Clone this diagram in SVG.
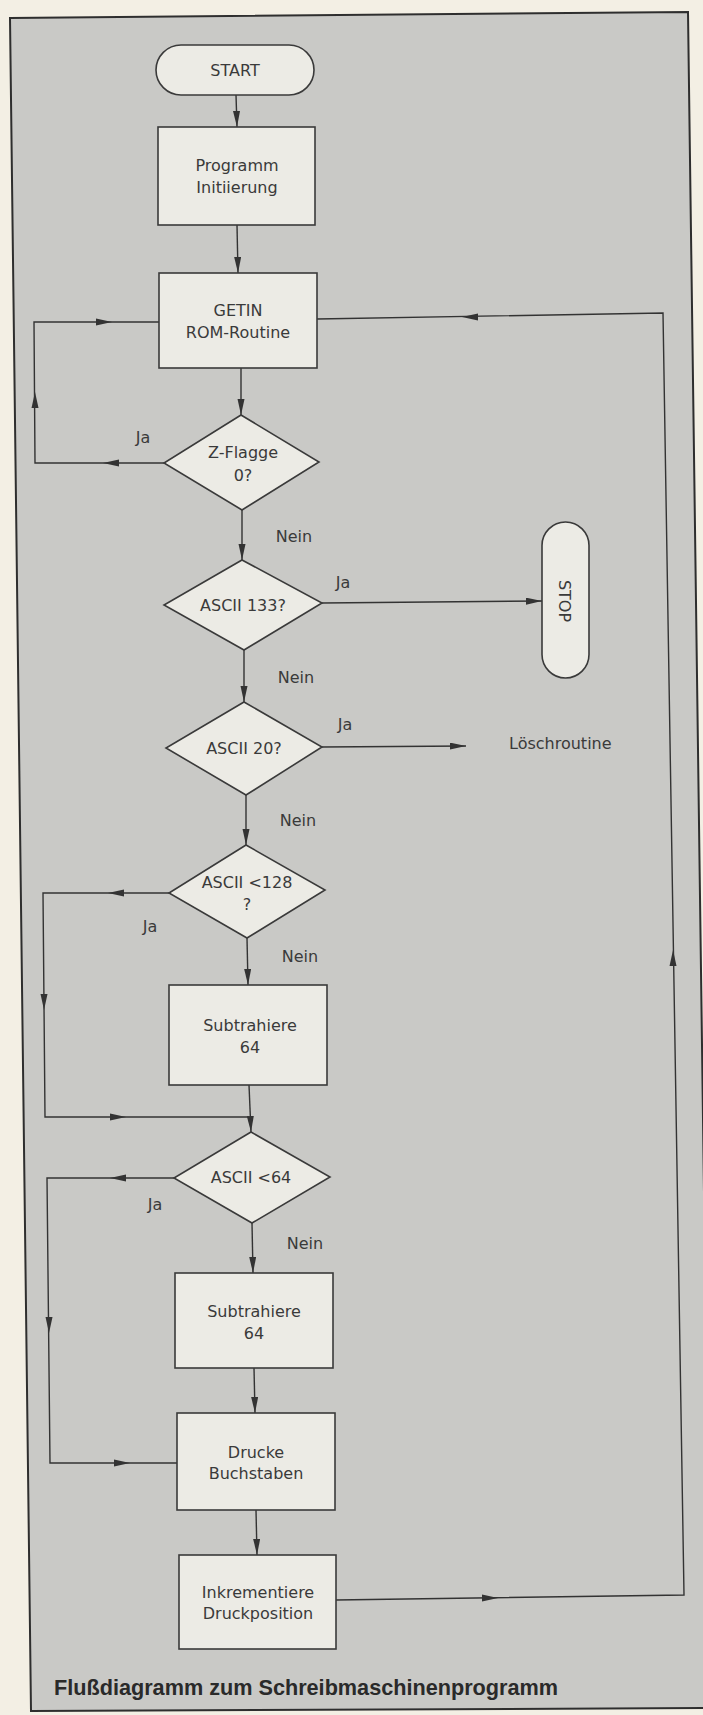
<svg xmlns="http://www.w3.org/2000/svg" xmlns:xlink="http://www.w3.org/1999/xlink" width="703" height="1715" viewBox="0 0 703 1715">
<style>
.bg{fill:#f3efe4}
.frame{fill:#c9c9c6;stroke:#2e2e2e;stroke-width:2}
.box{fill:#ecebe5;stroke:#3a3a3a;stroke-width:1.6}
.t{font-family:"DejaVu Sans","Liberation Sans",sans-serif;font-size:16px;fill:#3a3a3a;text-anchor:middle}
.l{font-family:"DejaVu Sans","Liberation Sans",sans-serif;font-size:16px;fill:#3a3a3a}
.cap{font-family:"Liberation Sans",Arial,sans-serif;font-size:22px;font-weight:bold;fill:#2a2a2a}
.c{fill:none;stroke:#333;stroke-width:1.4}
.ah{fill:#333}
</style>
<defs>
<marker id="arr" markerUnits="userSpaceOnUse" markerWidth="16" markerHeight="8" refX="16" refY="3.5" orient="auto">
<path d="M0,0 L16,3.5 L0,7 Z" fill="#333"/>
</marker>
<path id="ah" class="ah" d="M0,0 L-16,-3.5 L-16,3.5 Z"/>
</defs>
<rect class="bg" x="0" y="0" width="703" height="1715"/>
<polygon class="frame" points="10,18 688,12 711,1708 31,1711"/>

<g id="connectors">
<path class="c" marker-end="url(#arr)" d="M236,95 L237,127"/>
<path class="c" marker-end="url(#arr)" d="M237,225 L238,273"/>
<path class="c" marker-end="url(#arr)" d="M241,368 L241,415"/>
<path class="c" marker-end="url(#arr)" d="M242,510 L242,560"/>
<path class="c" marker-end="url(#arr)" d="M322,603 L542,601"/>
<path class="c" marker-end="url(#arr)" d="M244,650 L244,702"/>
<path class="c" marker-end="url(#arr)" d="M322,747 L466,746"/>
<path class="c" marker-end="url(#arr)" d="M246,795 L246,845"/>
<path class="c" marker-end="url(#arr)" d="M247,938 L248,985"/>
<path class="c" marker-end="url(#arr)" d="M249,1085 L251,1132"/>
<path class="c" marker-end="url(#arr)" d="M252,1223 L253,1273"/>
<path class="c" marker-end="url(#arr)" d="M254,1368 L255,1413"/>
<path class="c" marker-end="url(#arr)" d="M256,1510 L257,1555"/>
<path class="c" d="M164,463 L35,463 L34,322 L159,322"/>
<use xlink:href="#ah" href="#ah" transform="translate(103,463) rotate(180)"/>
<use xlink:href="#ah" href="#ah" transform="translate(35,392) rotate(-90)"/>
<use xlink:href="#ah" href="#ah" transform="translate(112,322)"/>
<path class="c" d="M169,893 L43,893 L45,1117 L249,1117"/>
<use xlink:href="#ah" href="#ah" transform="translate(108,893) rotate(180)"/>
<use xlink:href="#ah" href="#ah" transform="translate(44,1010) rotate(90)"/>
<use xlink:href="#ah" href="#ah" transform="translate(126,1117)"/>
<path class="c" d="M174,1178 L47,1178 L50,1463 L177,1463"/>
<use xlink:href="#ah" href="#ah" transform="translate(110,1178) rotate(180)"/>
<use xlink:href="#ah" href="#ah" transform="translate(49,1333) rotate(90)"/>
<use xlink:href="#ah" href="#ah" transform="translate(130,1463)"/>
<path class="c" d="M336,1600 L684,1595 L663,313 L317,319"/>
<use xlink:href="#ah" href="#ah" transform="translate(498,1598)"/>
<use xlink:href="#ah" href="#ah" transform="translate(673,950) rotate(-90)"/>
<use xlink:href="#ah" href="#ah" transform="translate(462,317) rotate(180)"/>
</g>

<g id="start"><rect class="box" x="156" y="45" width="158" height="50" rx="25"/><text class="t" x="235" y="76">START</text></g>
<g id="init"><rect class="box" x="158" y="127" width="157" height="98"/><text class="t" x="237" y="171">Programm</text><text class="t" x="237" y="193">Initiierung</text></g>
<g id="getin"><rect class="box" x="159" y="273" width="158" height="95"/><text class="t" x="238" y="316">GETIN</text><text class="t" x="238" y="338">ROM-Routine</text></g>
<g id="zflag"><polygon class="box" points="241,415 319,462 242,510 164,463"/><text class="t" x="243" y="458">Z-Flagge</text><text class="t" x="243" y="481">0?</text></g>
<g id="ascii133"><polygon class="box" points="242,560 322,603 244,650 164,605"/><text class="t" x="243" y="611">ASCII 133?</text></g>
<g id="stop"><rect class="box" x="542" y="522" width="47" height="156" rx="23.5"/><text class="t" transform="translate(565,601) rotate(90)" x="0" y="6">STOP</text></g>
<g id="ascii20"><polygon class="box" points="244,702 322,747 246,795 166,748"/><text class="t" x="244" y="754">ASCII 20?</text></g>
<g id="loesch"><text class="l" x="509" y="749">Löschroutine</text></g>
<g id="ascii128"><polygon class="box" points="246,845 325,890 247,938 169,893"/><text class="t" x="247" y="888">ASCII &lt;128</text><text class="t" x="247" y="910">?</text></g>
<g id="sub1"><rect class="box" x="169" y="985" width="158" height="100"/><text class="t" x="250" y="1031">Subtrahiere</text><text class="t" x="250" y="1053">64</text></g>
<g id="ascii64"><polygon class="box" points="251,1132 330,1177 252,1223 174,1178"/><text class="t" x="251" y="1183">ASCII &lt;64</text></g>
<g id="sub2"><rect class="box" x="175" y="1273" width="158" height="95"/><text class="t" x="254" y="1317">Subtrahiere</text><text class="t" x="254" y="1339">64</text></g>
<g id="drucke"><rect class="box" x="177" y="1413" width="158" height="97"/><text class="t" x="256" y="1458">Drucke</text><text class="t" x="256" y="1479">Buchstaben</text></g>
<g id="inkr"><rect class="box" x="179" y="1555" width="157" height="94"/><text class="t" x="258" y="1598">Inkrementiere</text><text class="t" x="258" y="1619">Druckposition</text></g>

<g id="labels">
<text class="t" x="143" y="443">Ja</text>
<text class="t" x="343" y="588">Ja</text>
<text class="t" x="345" y="730">Ja</text>
<text class="t" x="150" y="932">Ja</text>
<text class="t" x="155" y="1210">Ja</text>
<text class="t" x="294" y="542">Nein</text>
<text class="t" x="296" y="683">Nein</text>
<text class="t" x="298" y="826">Nein</text>
<text class="t" x="300" y="962">Nein</text>
<text class="t" x="305" y="1249">Nein</text>
</g>
<text class="cap" x="54" y="1695" textLength="504" lengthAdjust="spacingAndGlyphs">Flußdiagramm zum Schreibmaschinenprogramm</text>
</svg>
